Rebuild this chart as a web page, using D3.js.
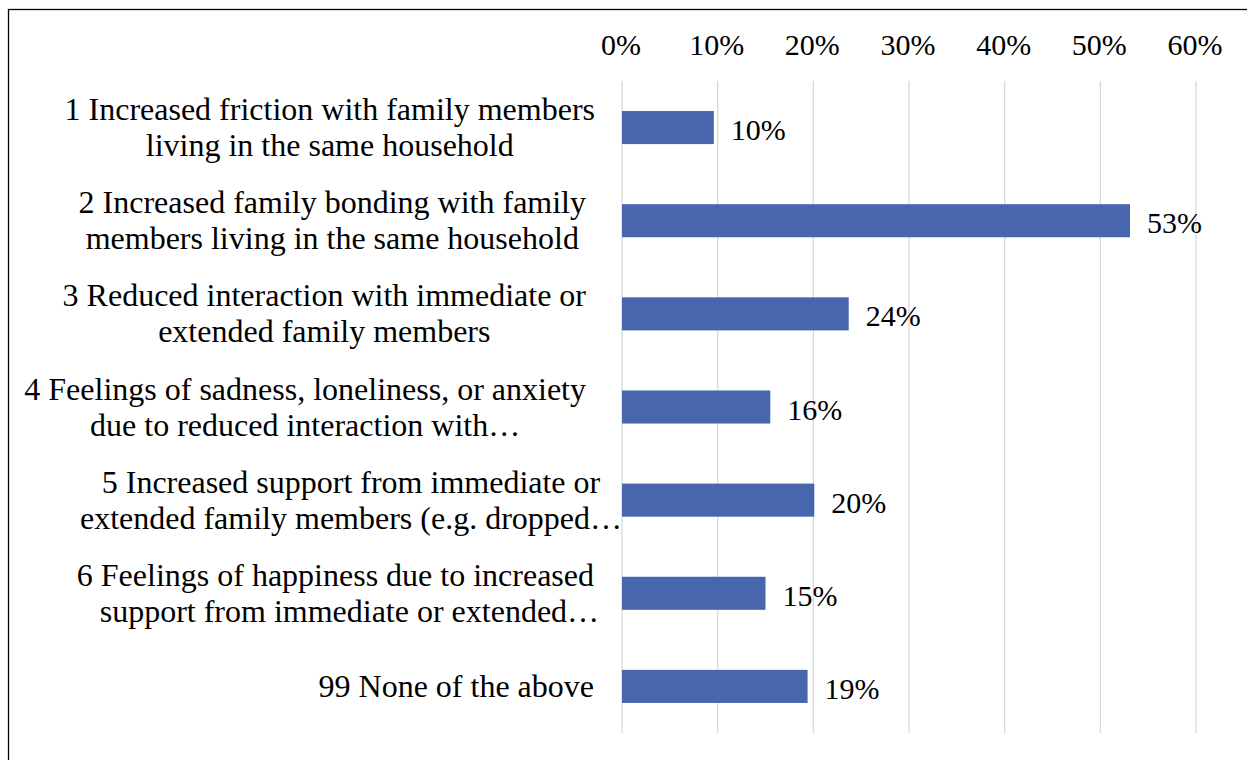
<!DOCTYPE html>
<html>
<head>
<meta charset="utf-8">
<script src="https://cdn.jsdelivr.net/npm/d3@7"></script>
<style>
html,body{margin:0;padding:0;background:#fff;}
svg{display:block;}
</style>
</head>
<body>
<script>
const categories = [
  ["1 Increased friction with family members", "living in the same household"],
  ["2 Increased family bonding with family", "members living in the same household"],
  ["3 Reduced interaction with immediate or", "extended family members"],
  ["4 Feelings of sadness, loneliness, or anxiety", "due to reduced interaction with\u2026"],
  ["5 Increased support from immediate or", "extended family members (e.g. dropped\u2026"],
  ["6 Feelings of happiness due to increased", "support from immediate or extended\u2026"],
  ["99 None of the above"]
];
const values = [0.096, 0.531, 0.237, 0.155, 0.201, 0.150, 0.194];
const valueLabels = ["10%", "53%", "24%", "16%", "20%", "15%", "19%"];
const tickValues = [0, 0.1, 0.2, 0.3, 0.4, 0.5, 0.6];
const tickLabels = ["0%", "10%", "20%", "30%", "40%", "50%", "60%"];

const W = 1247, H = 760;
const FS = 30, FS_CAT = 32;
const FONT = "'Liberation Serif'";
const svg = d3.select("body").append("svg").attr("width", W).attr("height", H);

// outer frame (extends beyond the right and bottom edges)
svg.append("rect").attr("x", 8.5).attr("y", 9.5).attr("width", 1260).attr("height", 780)
  .attr("fill", "none").attr("stroke", "#000").attr("stroke-width", 1.3);

const x = d3.scaleLinear().domain([0, 0.6]).range([622, 1196]);
const y = d3.scaleBand().domain(d3.range(categories.length)).range([81, 733]).paddingInner(0.645).paddingOuter(0.3225);

// gridlines
svg.append("g").selectAll("line").data(tickValues).join("line")
  .attr("x1", d => x(d)).attr("x2", d => x(d))
  .attr("y1", 81).attr("y2", 733)
  .attr("stroke", "#d9d9d9").attr("stroke-width", 1.3);

// top tick labels
svg.append("g").selectAll("text").data(tickValues).join("text")
  .attr("font-family", FONT)
  .attr("x", d => x(d) - 1).attr("y", 54.5)
  .attr("text-anchor", "middle").attr("font-size", FS)
  .text((d, i) => tickLabels[i]);

// bars
svg.append("g").selectAll("rect").data(values).join("rect")
  .attr("x", x(0)).attr("y", (d, i) => y(i))
  .attr("width", d => x(d) - x(0)).attr("height", y.bandwidth())
  .attr("fill", "#4866ad");

// value labels
svg.append("g").selectAll("text").data(values).join("text")
  .attr("font-family", FONT)
  .attr("x", d => x(d) + 17).attr("y", (d, i) => y(i) + y.bandwidth() / 2 + 12.5)
  .attr("font-size", FS)
  .text((d, i) => valueLabels[i]);

// category labels: lines centered within a right-aligned block
const labelRights = [595, 586, 586, 586, 622, 594, 594];
const lineShift = {"5-1": 14};
const lineH = 36;
const gLab = svg.append("g");
categories.forEach((lines, i) => {
  const cy = y(i) + y.bandwidth() / 2;
  const g = gLab.append("g");
  const texts = lines.map((s, k) => g.append("text")
    .attr("font-family", FONT)
    .attr("font-size", FS_CAT)
    .attr("text-anchor", "middle")
    .attr("y", cy + (k - (lines.length - 1) / 2) * lineH + 10.5)
    .text(s));
  const widths = texts.map(t => t.node().getComputedTextLength());
  const maxW = d3.max(widths);
  const cx = labelRights[i] - maxW / 2;
  texts.forEach((t, k) => t.attr("x", cx + (lineShift[i + "-" + k] || 0)));
});
</script>
</body>
</html>
